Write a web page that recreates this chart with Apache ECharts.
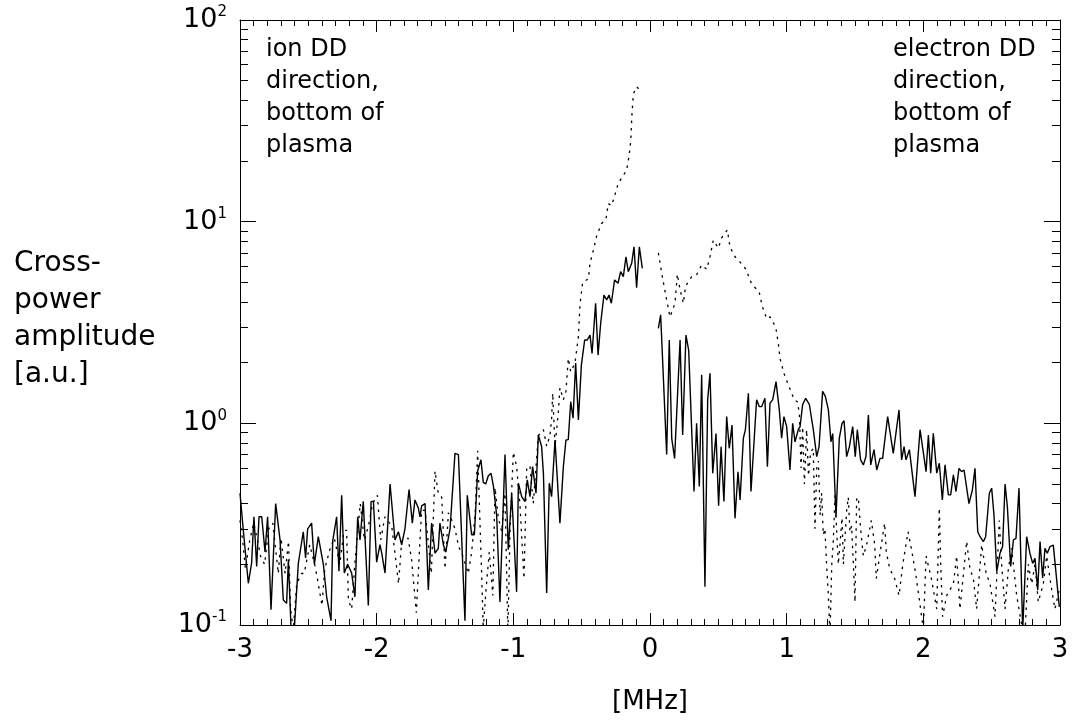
<!DOCTYPE html>
<html>
<head>
<meta charset="utf-8">
<script src="https://cdn.jsdelivr.net/npm/echarts@6/dist/echarts.min.js"></script>
<style>
html,body{margin:0;padding:0;background:#fff;}
#chart{width:1077px;height:726px;}
</style>
</head>
<body>
<div id="chart"></div>
<script>
// ---------- data ----------
// solid trace (frequency in MHz, cross-power amplitude); null = gap
const solidMHz = [
-3.0,-2.976,-2.939,-2.915,-2.898,-2.878,-2.861,-2.841,-2.817,-2.798,-2.773,-2.739,-2.707,-2.683,-2.659,-2.646,-2.627,-2.602,-2.573,-2.537,
-2.520,-2.505,-2.476,-2.456,-2.427,-2.415,-2.390,-2.366,-2.334,-2.322,-2.293,-2.276,-2.256,-2.237,-2.212,-2.183,-2.159,-2.139,-2.122,-2.098,
-2.061,-2.041,-2.024,-2.0,-1.976,-1.963,-1.939,-1.902,-1.866,-1.841,-1.817,-1.793,-1.763,-1.739,-1.720,-1.695,-1.683,-1.671,-1.646,-1.622,
-1.598,-1.573,-1.549,-1.537,-1.512,-1.495,-1.463,-1.427,-1.402,-1.354,-1.337,-1.305,-1.285,-1.261,-1.237,-1.220,-1.202,-1.183,-1.163,-1.146,
-1.122,-1.098,-1.061,-1.037,-1.012,-1.0,-0.976,-0.963,-0.939,-0.915,-0.898,-0.878,-0.859,-0.834,-0.817,-0.793,-0.780,-0.756,-0.737,-0.720,
-0.695,-0.659,-0.634,-0.615,-0.598,-0.580,-0.563,-0.544,-0.524,-0.502,-0.478,-0.459,-0.439,-0.424,-0.398,-0.380,-0.361,-0.337,-0.317,-0.300,
-0.283,-0.259,-0.234,-0.215,-0.195,-0.176,-0.159,-0.134,-0.117,-0.098,-0.078,-0.056,0.0,
0.061,0.078,0.122,0.141,0.159,0.180,0.220,0.239,0.263,0.283,0.322,0.341,0.361,0.378,0.402,0.422,0.439,0.459,0.483,0.502,
0.520,0.541,0.561,0.580,0.600,0.622,0.644,0.659,0.683,0.698,0.720,0.739,0.780,0.800,0.817,0.841,0.859,0.878,0.898,0.922,
0.946,0.963,0.980,1.0,1.024,1.044,1.061,1.085,1.098,1.117,1.139,1.166,1.195,1.220,1.237,1.263,1.283,1.305,1.324,1.337,
1.361,1.385,1.405,1.420,1.439,1.459,1.483,1.502,1.517,1.541,1.561,1.580,1.598,1.615,1.639,1.659,1.683,1.702,1.739,1.780,
1.822,1.841,1.859,1.873,1.898,1.939,1.976,2.020,2.037,2.054,2.073,2.098,2.117,2.139,2.159,2.183,2.200,2.220,2.239,2.261,
2.280,2.298,2.334,2.359,2.378,2.398,2.415,2.439,2.456,2.483,2.5,2.517,2.537,2.561,2.580,2.598,2.615,2.639,2.659,2.678,
2.700,2.727,2.756,2.780,2.800,2.817,2.837,2.854,2.873,2.890,2.907,2.927,2.951,2.995
];
const solidAmp = [
0.45,0.296,0.161,0.203,0.344,0.195,0.344,0.344,0.23,0.344,0.119,0.40,0.264,0.133,0.128,0.21,0.097,0.097,0.203,0.29,
0.215,0.30,0.32,0.20,0.274,0.28,0.20,0.138,0.105,0.26,0.344,0.185,0.44,0.181,0.20,0.181,0.138,0.344,0.264,0.41,
0.125,0.41,0.41,0.205,0.25,0.227,0.181,0.50,0.264,0.29,0.25,0.30,0.47,0.32,0.417,0.38,0.344,0.39,0.40,0.149,
0.32,0.227,0.24,0.32,0.25,0.23,0.30,0.71,0.70,0.105,0.44,0.28,0.28,0.58,0.66,0.51,0.50,0.55,0.565,0.49,
0.35,0.13,0.70,0.236,0.45,0.459,0.146,0.505,0.433,0.409,0.524,0.433,0.61,0.45,0.876,0.766,0.566,0.144,0.505,0.433,
0.827,0.32,0.61,0.827,0.83,1.28,1.06,1.99,1.04,1.95,2.59,2.59,2.74,2.22,3.94,2.18,3.13,4.33,4.09,4.33,
3.94,5.14,4.95,5.65,5.34,6.7,5.65,6.22,7.5,4.7,7.5,5.87,null,
2.96,3.45,0.70,2.59,0.843,0.67,2.59,0.876,2.74,2.31,0.459,1.0,0.486,1.74,0.155,1.31,1.77,0.566,0.89,0.39,
0.766,0.41,1.08,0.752,0.98,0.338,0.575,0.417,0.843,0.93,1.41,0.459,1.31,1.21,1.21,1.33,0.61,1.26,1.31,1.61,
1.17,0.843,1.08,0.963,0.587,1.0,0.81,0.93,0.963,1.24,1.33,1.24,0.93,0.684,0.766,1.44,1.36,1.17,0.81,0.89,
0.344,0.843,1.0,1.03,0.684,0.766,0.963,0.684,0.93,0.659,0.622,0.684,1.10,0.622,0.74,0.587,0.67,0.67,1.08,0.71,
1.165,0.659,0.766,0.659,0.74,0.433,0.93,0.576,0.876,0.566,0.893,0.566,0.634,0.417,0.622,0.442,0.442,0.555,0.459,0.598,
0.576,0.587,0.40,0.468,0.598,0.29,0.274,0.259,0.274,0.45,0.477,0.35,0.184,0.227,0.245,0.50,0.386,0.195,0.264,0.269,
0.477,0.095,0.274,0.227,0.202,0.214,0.149,0.259,0.171,0.24,0.227,0.245,0.249,0.123
];
// dotted trace
const dottedMHz = [
-3.0,-2.98,-2.96,-2.93,-2.90,-2.87,-2.85,-2.82,-2.79,-2.76,-2.72,-2.70,-2.67,-2.645,-2.63,-2.61,-2.585,-2.55,-2.53,-2.49,
-2.45,-2.42,-2.40,-2.38,-2.34,-2.31,-2.27,-2.24,-2.22,-2.207,-2.183,-2.16,-2.12,-2.09,-2.06,-2.03,-1.995,-1.97,-1.94,-1.89,
-1.866,-1.84,-1.817,-1.77,-1.744,-1.71,-1.683,-1.671,-1.646,-1.60,-1.573,-1.549,-1.524,-1.50,-1.475,-1.45,-1.427,-1.40,-1.37,-1.33,
-1.305,-1.28,-1.261,-1.232,-1.22,-1.20,-1.176,-1.15,-1.134,-1.11,-1.085,-1.061,-1.04,-1.024,-1.0,-0.976,-0.951,-0.922,-0.902,-0.878,
-0.854,-0.817,-0.780,-0.756,-0.732,-0.720,-0.712,-0.695,-0.671,-0.659,-0.634,-0.615,-0.598,-0.580,-0.549,-0.524,-0.512,-0.493,-0.451,-0.439,
-0.415,-0.39,-0.354,-0.322,-0.305,-0.283,-0.268,-0.232,-0.171,-0.154,-0.141,-0.132,-0.122,-0.098,-0.075,-0.061,0.0,
0.061,0.093,0.122,0.146,0.183,0.2,0.22,0.244,0.261,0.305,0.341,0.378,0.415,0.439,0.463,0.5,0.524,0.566,0.585,0.622,
0.659,0.703,0.744,0.798,0.822,0.854,0.878,0.920,0.939,0.951,0.980,1.012,1.037,1.054,1.078,1.093,1.105,1.117,1.13,1.146,
1.16,1.175,1.195,1.207,1.22,1.232,1.245,1.256,1.268,1.28,1.293,1.305,1.317,1.33,1.341,1.354,1.366,1.378,1.39,1.405,
1.415,1.439,1.451,1.463,1.475,1.488,1.5,1.512,1.524,1.541,1.561,1.585,1.62,1.644,1.656,1.68,1.717,1.729,1.754,1.79,
1.822,1.85,1.888,1.912,1.944,1.973,2.0,2.02,2.059,2.098,2.117,2.127,2.141,2.171,2.22,2.244,2.268,2.317,2.341,2.366,
2.39,2.427,2.46,2.488,2.524,2.556,2.573,2.598,2.622,2.646,2.683,2.72,2.744,2.768,2.793,2.817,2.841,2.878,2.902,2.939,
2.963,2.995
];
const dottedAmp = [
0.33,0.26,0.19,0.26,0.32,0.26,0.22,0.20,0.30,0.32,0.18,0.27,0.18,0.26,0.12,0.095,0.16,0.18,0.18,0.25,
0.195,0.15,0.125,0.19,0.24,0.27,0.20,0.29,0.296,0.133,0.12,0.2,0.40,0.264,0.31,0.40,0.44,0.264,0.344,0.31,
0.227,0.16,0.26,0.27,0.21,0.115,0.264,0.37,0.37,0.18,0.58,0.45,0.43,0.19,0.36,0.33,0.30,0.245,0.22,0.18,
0.23,0.35,0.73,0.18,0.095,0.15,0.23,0.14,0.48,0.34,0.29,0.45,0.09,0.30,0.72,0.61,0.39,0.17,0.61,0.61,
0.40,0.87,0.93,0.77,0.87,1.05,1.41,0.77,1.13,1.5,1.31,1.44,2.1,1.8,1.99,2.69,3.9,5.0,5.2,6.2,
7.2,8.5,9.8,10.3,12.3,12.0,12.8,15.5,18,21,25,34,43,46.7,45,44,null,
7.0,5.2,4.09,3.37,3.94,5.5,4.6,3.94,4.8,5.34,5.45,6.1,5.8,6.7,8.1,7.4,8.3,9.1,7.5,6.7,
6.3,5.8,4.9,4.5,3.8,3.3,3.37,3.0,2.49,2.1,1.77,1.55,1.41,1.31,1.28,1.12,0.6,0.96,0.5,0.93,
0.55,0.72,0.75,0.3,0.6,0.65,0.35,0.45,0.28,0.3,0.195,0.14,0.09,0.2,0.26,0.44,0.29,0.2,0.25,0.34,
0.2,0.37,0.43,0.29,0.31,0.2,0.13,0.42,0.43,0.3,0.22,0.25,0.33,0.25,0.17,0.22,0.32,0.23,0.19,0.17,
0.14,0.2,0.29,0.24,0.18,0.13,0.095,0.22,0.17,0.12,0.38,0.2,0.11,0.14,0.16,0.22,0.12,0.26,0.19,0.17,
0.12,0.25,0.18,0.16,0.11,0.33,0.2,0.12,0.19,0.24,0.14,0.1,0.09,0.2,0.16,0.2,0.13,0.16,0.22,0.15,
0.12,0.15
];
// axis ticks
const xTickLabels = [-3, -2, -1, 0, 1, 2, 3];
const yDecadeExponents = [-1, 0, 1, 2];
const yMinorTickValues = [0.2,0.3,0.4,0.5,0.6,0.7,0.8,0.9,2,3,4,5,6,7,8,9,20,30,40,50,60,70,80,90];
const annotLeft = 'ion DD\ndirection,\nbottom of\nplasma';
const annotRight = 'electron DD\ndirection,\nbottom of\nplasma';
const yTitle = 'Cross-\npower\namplitude\n[a.u.]';
const xTitle = '[MHz]';

// ---------- chart ----------
const FONT = '"DejaVu Sans", "Liberation Sans", sans-serif';
const pair = (xs, ys) => xs.map((x, i) => [x, ys[i] == null ? '-' : ys[i]]);
const minorLog = yMinorTickValues.map(v => Math.log10(v));

const chart = echarts.init(document.getElementById('chart'), null, {renderer: 'canvas'});
const black = '#000';
const xBase = {
  type: 'value', min: -3, max: 3, interval: 1,
  axisLine: {show: true, onZero: false, lineStyle: {color: black, width: 1}},
  axisTick: {show: true, inside: true, length: 12, lineStyle: {color: black}},
  minorTick: {show: true, splitNumber: 10, length: 6, lineStyle: {color: black}},
  splitLine: {show: false}
};
const helperY = (pos, showLine, ticks, len, labels) => ({
  type: 'value', min: -1, max: 2, interval: 1, position: pos,
  axisLine: {show: showLine, onZero: false, lineStyle: {color: black, width: 1}},
  axisTick: {show: true, inside: true, length: len, lineStyle: {color: black},
    customValues: ticks},
  axisLabel: labels ? {
    show: true, margin: 13, customValues: yDecadeExponents,
    formatter: v => '{b|10}{s|' + v + '}',
    rich: {
      b: {fontSize: 27, fontFamily: FONT, color: black, lineHeight: 30},
      s: {fontSize: 15, fontFamily: FONT, color: black, lineHeight: 15, verticalAlign: 'top'}
    }
  } : {show: false},
  splitLine: {show: false}
});

const option = {
  animation: false,
  backgroundColor: '#fff',
  grid: {left: 240, right: 17, top: 20, bottom: 101, containLabel: false},
  xAxis: [
    Object.assign({}, xBase, {position: 'bottom',
      axisLabel: {show: true, margin: 12, fontSize: 26, fontFamily: FONT, color: black,
        customValues: xTickLabels, formatter: v => String(v)}}),
    Object.assign({}, xBase, {position: 'top', axisLabel: {show: false}})
  ],
  yAxis: [
    {type: 'log', logBase: 10, min: 0.1, max: 100, position: 'left',
     axisLine: {show: true, onZero: false, lineStyle: {color: black, width: 1}},
     axisTick: {show: false}, axisLabel: {show: false}, splitLine: {show: false}, minorSplitLine: {show: false}},
    helperY('left', false, yDecadeExponents, 16, true),
    helperY('left', false, minorLog, 8, false),
    helperY('right', true, yDecadeExponents, 16, false),
    helperY('right', false, minorLog, 8, false)
  ],
  series: [
    {type: 'line', xAxisIndex: 0, yAxisIndex: 0, data: pair(solidMHz, solidAmp),
     showSymbol: false, symbol: 'none', connectNulls: false, clip: true,
     lineStyle: {color: black, width: 1.4}},
    {type: 'line', xAxisIndex: 0, yAxisIndex: 0, data: pair(dottedMHz, dottedAmp),
     showSymbol: false, symbol: 'none', connectNulls: false, clip: true,
     lineStyle: {color: black, width: 1.3, type: [2.5, 5]}}
  ],
  graphic: [
    {type: 'text', left: 14, top: 245,
     style: {text: yTitle, font: '28px ' + FONT, lineHeight: 37, fill: black}},
    {type: 'text', left: 266, top: 34,
     style: {text: annotLeft, font: '24px ' + FONT, lineHeight: 32, fill: black}},
    {type: 'text', left: 893, top: 34,
     style: {text: annotRight, font: '24px ' + FONT, lineHeight: 32, fill: black}},
    {type: 'text', x: 650, y: 702,
     style: {text: xTitle, font: '26px ' + FONT, fill: black, align: 'center', verticalAlign: 'middle'}}
  ]
};
chart.setOption(option);
</script>
</body>
</html>
